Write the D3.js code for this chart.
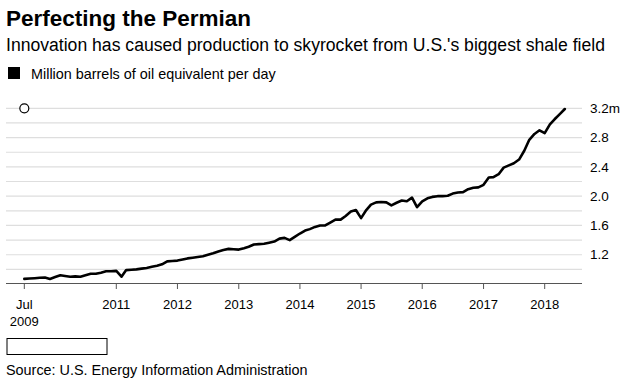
<!DOCTYPE html>
<html>
<head>
<meta charset="utf-8">
<title>Perfecting the Permian</title>
<script src="https://cdn.jsdelivr.net/npm/d3@7"></script>
<style>
  body { margin: 0; background: #fff; }
  svg { display: block; font-family: "Liberation Sans", Arial, sans-serif; }
</style>
</head>
<body>
<svg id="chart" width="632" height="382"></svg>
<script>
// monthly production, Jul 2009 .. May 2018 (million boe/d)
const startMonth = new Date(2009, 6, 1);
const production = [
  0.87, 0.875, 0.88, 0.885, 0.89, 0.87, 0.895, 0.92, 0.91, 0.90, 0.905, 0.90,
  0.92, 0.94, 0.94, 0.955, 0.975, 0.975, 0.98, 0.90, 0.99, 0.995, 1.0, 1.01,
  1.02, 1.035, 1.05, 1.07, 1.11, 1.115, 1.12, 1.135, 1.15, 1.16, 1.17, 1.18,
  1.20, 1.22, 1.245, 1.265, 1.28, 1.275, 1.27, 1.29, 1.31, 1.34, 1.345, 1.35,
  1.365, 1.38, 1.42, 1.43, 1.40, 1.445, 1.49, 1.53, 1.55, 1.58, 1.60, 1.60,
  1.64, 1.68, 1.68, 1.73, 1.79, 1.81, 1.70, 1.81, 1.885, 1.915, 1.92, 1.915,
  1.875, 1.91, 1.94, 1.93, 1.98, 1.85, 1.93, 1.97, 1.99, 2.0, 2.0, 2.005,
  2.035, 2.05, 2.055, 2.095, 2.115, 2.12, 2.155, 2.255, 2.26, 2.30, 2.39, 2.42,
  2.45, 2.50, 2.62, 2.77, 2.85, 2.90, 2.86, 2.98, 3.05, 3.12, 3.19
];
const gridValues = [1.0, 1.2, 1.4, 1.6, 1.8, 2.0, 2.2, 2.4, 2.6, 2.8, 3.0, 3.2];
const yTickValues = [1.2, 1.6, 2.0, 2.4, 2.8, 3.2];
const xTickDates = [new Date(2009, 6, 1), new Date(2011, 0, 1), new Date(2012, 0, 1),
  new Date(2013, 0, 1), new Date(2014, 0, 1), new Date(2015, 0, 1), new Date(2016, 0, 1),
  new Date(2017, 0, 1), new Date(2018, 0, 1)];

const data = production.map((v, i) => ({ date: d3.timeMonth.offset(startMonth, i), value: v }));

const svg = d3.select("#chart");

const x = d3.scaleTime()
  .domain([new Date(2011, 0, 1), new Date(2018, 0, 1)])
  .range([116.3, 544.7]);
const y = d3.scaleLinear().domain([0.81, 3.2]).range([283.3, 108.3]);

const left = 6, right = 582;

// titles
svg.append("text").attr("x", 6).attr("y", 26)
  .attr("font-size", 22.5).attr("font-weight", 900).attr("fill", "#000")
  .text("Perfecting the Permian");
svg.append("text").attr("x", 6).attr("y", 51)
  .attr("font-size", 17.6).attr("fill", "#000")
  .text("Innovation has caused production to skyrocket from U.S.'s biggest shale field");

// legend
svg.append("rect").attr("x", 8).attr("y", 67).attr("width", 12).attr("height", 12).attr("fill", "#000");
svg.append("text").attr("x", 31).attr("y", 79)
  .attr("font-size", 14.4).attr("fill", "#000")
  .text("Million barrels of oil equivalent per day");

// gridlines
svg.append("g").selectAll("line").data(gridValues).join("line")
  .attr("x1", left).attr("x2", right)
  .attr("y1", d => y(d)).attr("y2", d => y(d))
  .attr("stroke", "#dedede").attr("stroke-width", 1.2);

// y labels
svg.append("g").selectAll("text").data(yTickValues).join("text")
  .attr("x", 590).attr("y", d => y(d)).attr("dy", "0.35em")
  .attr("font-size", 13.5).attr("fill", "#000")
  .text(d => d.toFixed(1) + (d === 3.2 ? "m" : ""));

// x axis
svg.append("line").attr("x1", left).attr("x2", right)
  .attr("y1", 283.5).attr("y2", 283.5).attr("stroke", "#555").attr("stroke-width", 1);
const xt = svg.append("g").selectAll("g").data(xTickDates).join("g")
  .attr("transform", d => `translate(${x(d)},0)`);
xt.append("line").attr("y1", 283.5).attr("y2", 289).attr("stroke", "#555");
xt.append("text").attr("y", 309).attr("text-anchor", "middle")
  .attr("font-size", 13).attr("fill", "#000")
  .text(d => d.getMonth() === 6 ? "Jul" : d.getFullYear());
xt.filter(d => d.getMonth() === 6).append("text").attr("y", 326)
  .attr("text-anchor", "middle").attr("font-size", 13).attr("fill", "#000")
  .text(d => d.getFullYear());

// line
const line = d3.line().x(d => x(d.date)).y(d => y(d.value)).curve(d3.curveLinear);
svg.append("path").datum(data)
  .attr("d", line).attr("fill", "none")
  .attr("stroke", "#000").attr("stroke-width", 2.6)
  .attr("stroke-linejoin", "round").attr("stroke-linecap", "round");

// hover marker
svg.append("circle").attr("cx", x(startMonth)).attr("cy", y(3.2)).attr("r", 4.5)
  .attr("fill", "#fff").attr("stroke", "#000").attr("stroke-width", 1.2);

// footer
svg.append("rect").attr("x", 7).attr("y", 338.5).attr("width", 100).attr("height", 16)
  .attr("fill", "#fff").attr("stroke", "#000").attr("stroke-width", 1);
svg.append("text").attr("x", 6).attr("y", 375)
  .attr("font-size", 14.4).attr("fill", "#000")
  .text("Source: U.S. Energy Information Administration");
</script>
</body>
</html>
